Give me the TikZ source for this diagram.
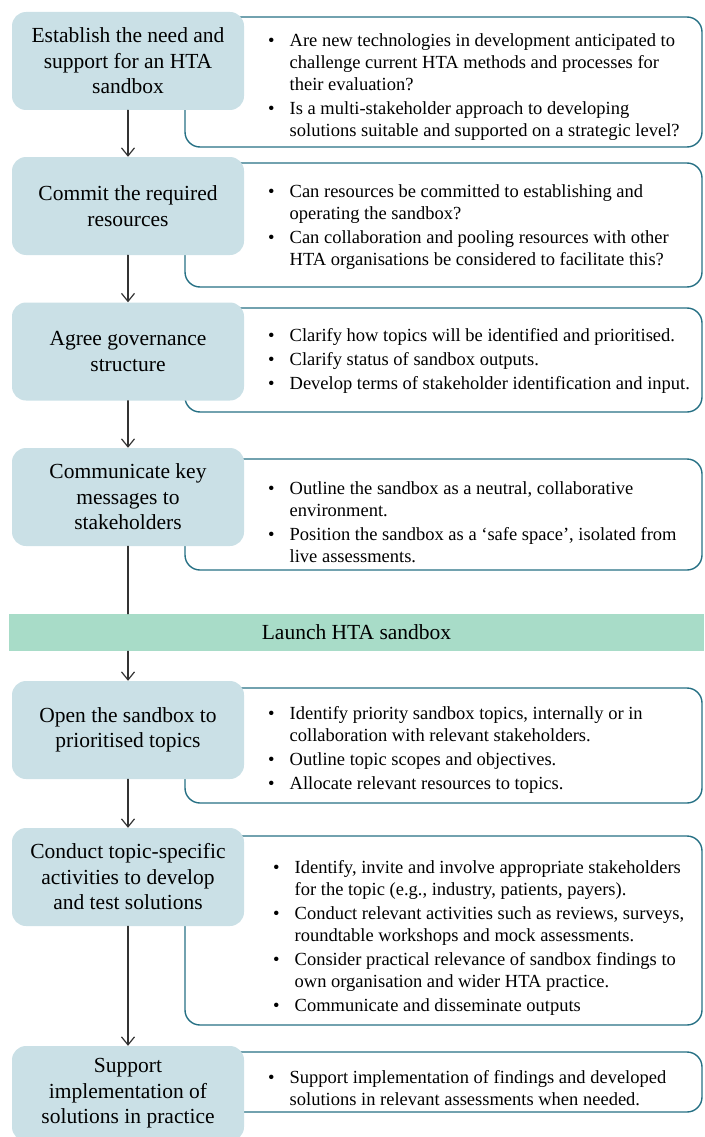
\documentclass[tikz,border=0pt]{standalone}
\usepackage{fontspec}
\setmainfont{Liberation Serif}
\usetikzlibrary{arrows.meta}
\definecolor{stepfill}{RGB}{202,224,230}
\definecolor{framecol}{RGB}{38,112,132}
\definecolor{launchfill}{RGB}{168,220,200}
\newenvironment{bulletlist}{\begin{tabular}{@{}l@{\hspace{15pt}}l@{}}}{\end{tabular}}
\begin{document}
\begin{tikzpicture}[x=1pt, y=-1pt, line join=round, line cap=round,
	stepbox/.style={fill=stepfill, rounded corners=14pt, minimum width=232pt, minimum height=98pt, inner sep=0pt, align=center, font=\fontsize{21.5}{25.5}\selectfont},
	detailbox/.style={draw=framecol, line width=1.4pt, rounded corners=15pt, minimum width=517pt, inner sep=0pt},
	detailtext/.style={anchor=west, inner sep=0pt, align=left, font=\fontsize{18.5}{22}\selectfont},
	flow/.style={draw=black!80, line width=1.2pt, -{Straight Barb[length=8pt, width=13pt, line width=1.2pt]}}]
	\useasboundingbox (0,0) rectangle (704,1137);
	\clip (0,0) rectangle (704,1137);
	% detail frames
	\node[detailbox, minimum height=130pt] (d1) at (443.5,82) {};
	\node[detailbox, minimum height=124pt] (d2) at (443.5,225) {};
	\node[detailbox, minimum height=104pt] (d3) at (443.5,360) {};
	\node[detailbox, minimum height=111pt] (d4) at (443.5,514.5) {};
	\node[detailbox, minimum height=115pt] (d5) at (443.5,745.5) {};
	\node[detailbox, minimum height=189pt] (d6) at (443.5,930.5) {};
	\node[detailbox, minimum height=60pt] (d7) at (443.5,1082) {};
	% steps
	\node[stepbox] (s1) at (128,61) {Establish the need and\\support for an HTA\\sandbox};
	\node[stepbox] (s2) at (128,206) {Commit the required\\resources};
	\node[stepbox] (s3) at (128,351.5) {Agree governance\\structure};
	\node[stepbox] (s4) at (128,497) {Communicate key\\messages to\\stakeholders};
	\node[fill=launchfill, minimum width=695pt, minimum height=37pt, inner sep=0pt, font=\fontsize{21.5}{25.5}\selectfont] (launch) at (356.5,632.5) {Launch HTA sandbox};
	\node[stepbox] (s5) at (128,730) {Open the sandbox to\\prioritised topics};
	\node[stepbox] (s6) at (128,877) {Conduct topic-specific\\activities to develop\\and test solutions};
	\node[stepbox, minimum height=95pt] (s7) at (128,1093.5) {Support\\implementation of\\solutions in practice};
	% detail texts
	\node[detailtext] (t1) at (268,87.5) {\begin{bulletlist}
		\textbullet & Are new technologies in development anticipated to\\
		& challenge current HTA methods and processes for\\
		& their evaluation?\\[2pt]
		\textbullet & Is a multi-stakeholder approach to developing\\
		& solutions suitable and supported on a strategic level?
	\end{bulletlist}};
	\node[detailtext] (t2) at (268,227) {\begin{bulletlist}
		\textbullet & Can resources be committed to establishing and\\
		& operating the sandbox?\\[2pt]
		\textbullet & Can collaboration and pooling resources with other\\
		& HTA organisations be considered to facilitate this?
	\end{bulletlist}};
	\node[detailtext] (t3) at (268,361.5) {\begin{bulletlist}
		\textbullet & Clarify how topics will be identified and prioritised.\\[2pt]
		\textbullet & Clarify status of sandbox outputs.\\[2pt]
		\textbullet & Develop terms of stakeholder identification and input.
	\end{bulletlist}};
	\node[detailtext] (t4) at (268,524) {\begin{bulletlist}
		\textbullet & Outline the sandbox as a neutral, collaborative\\
		& environment.\\[2pt]
		\textbullet & Position the sandbox as a ‘safe space’, isolated from\\
		& live assessments.
	\end{bulletlist}};
	\node[detailtext] (t5) at (268,750.5) {\begin{bulletlist}
		\textbullet & Identify priority sandbox topics, internally or in\\
		& collaboration with relevant stakeholders.\\[2pt]
		\textbullet & Outline topic scopes and objectives.\\[2pt]
		\textbullet & Allocate relevant resources to topics.
	\end{bulletlist}};
	\node[detailtext] (t6) at (273,938) {\begin{bulletlist}
		\textbullet & Identify, invite and involve appropriate stakeholders\\
		& for the topic (e.g., industry, patients, payers).\\[2pt]
		\textbullet & Conduct relevant activities such as reviews, surveys,\\
		& roundtable workshops and mock assessments.\\[2pt]
		\textbullet & Consider practical relevance of sandbox findings to\\
		& own organisation and wider HTA practice.\\[2pt]
		\textbullet & Communicate and disseminate outputs
	\end{bulletlist}};
	\node[detailtext] (t7) at (268,1090) {\begin{bulletlist}
		\textbullet & Support implementation of findings and developed\\
		& solutions in relevant assessments when needed.
	\end{bulletlist}};
	% flow
	\draw[flow] (s1) -- (s2);
	\draw[flow] (s2) -- (s3);
	\draw[flow] (s3) -- (s4);
	\draw[draw=black!80, line width=1.2pt] (s4) -- (s4 |- launch.north);
	\draw[flow] (launch.south -| s5.north) -- (s5);
	\draw[flow] (s5) -- (s6);
	\draw[flow] (s6) -- (s7);
\end{tikzpicture}
\end{document}
